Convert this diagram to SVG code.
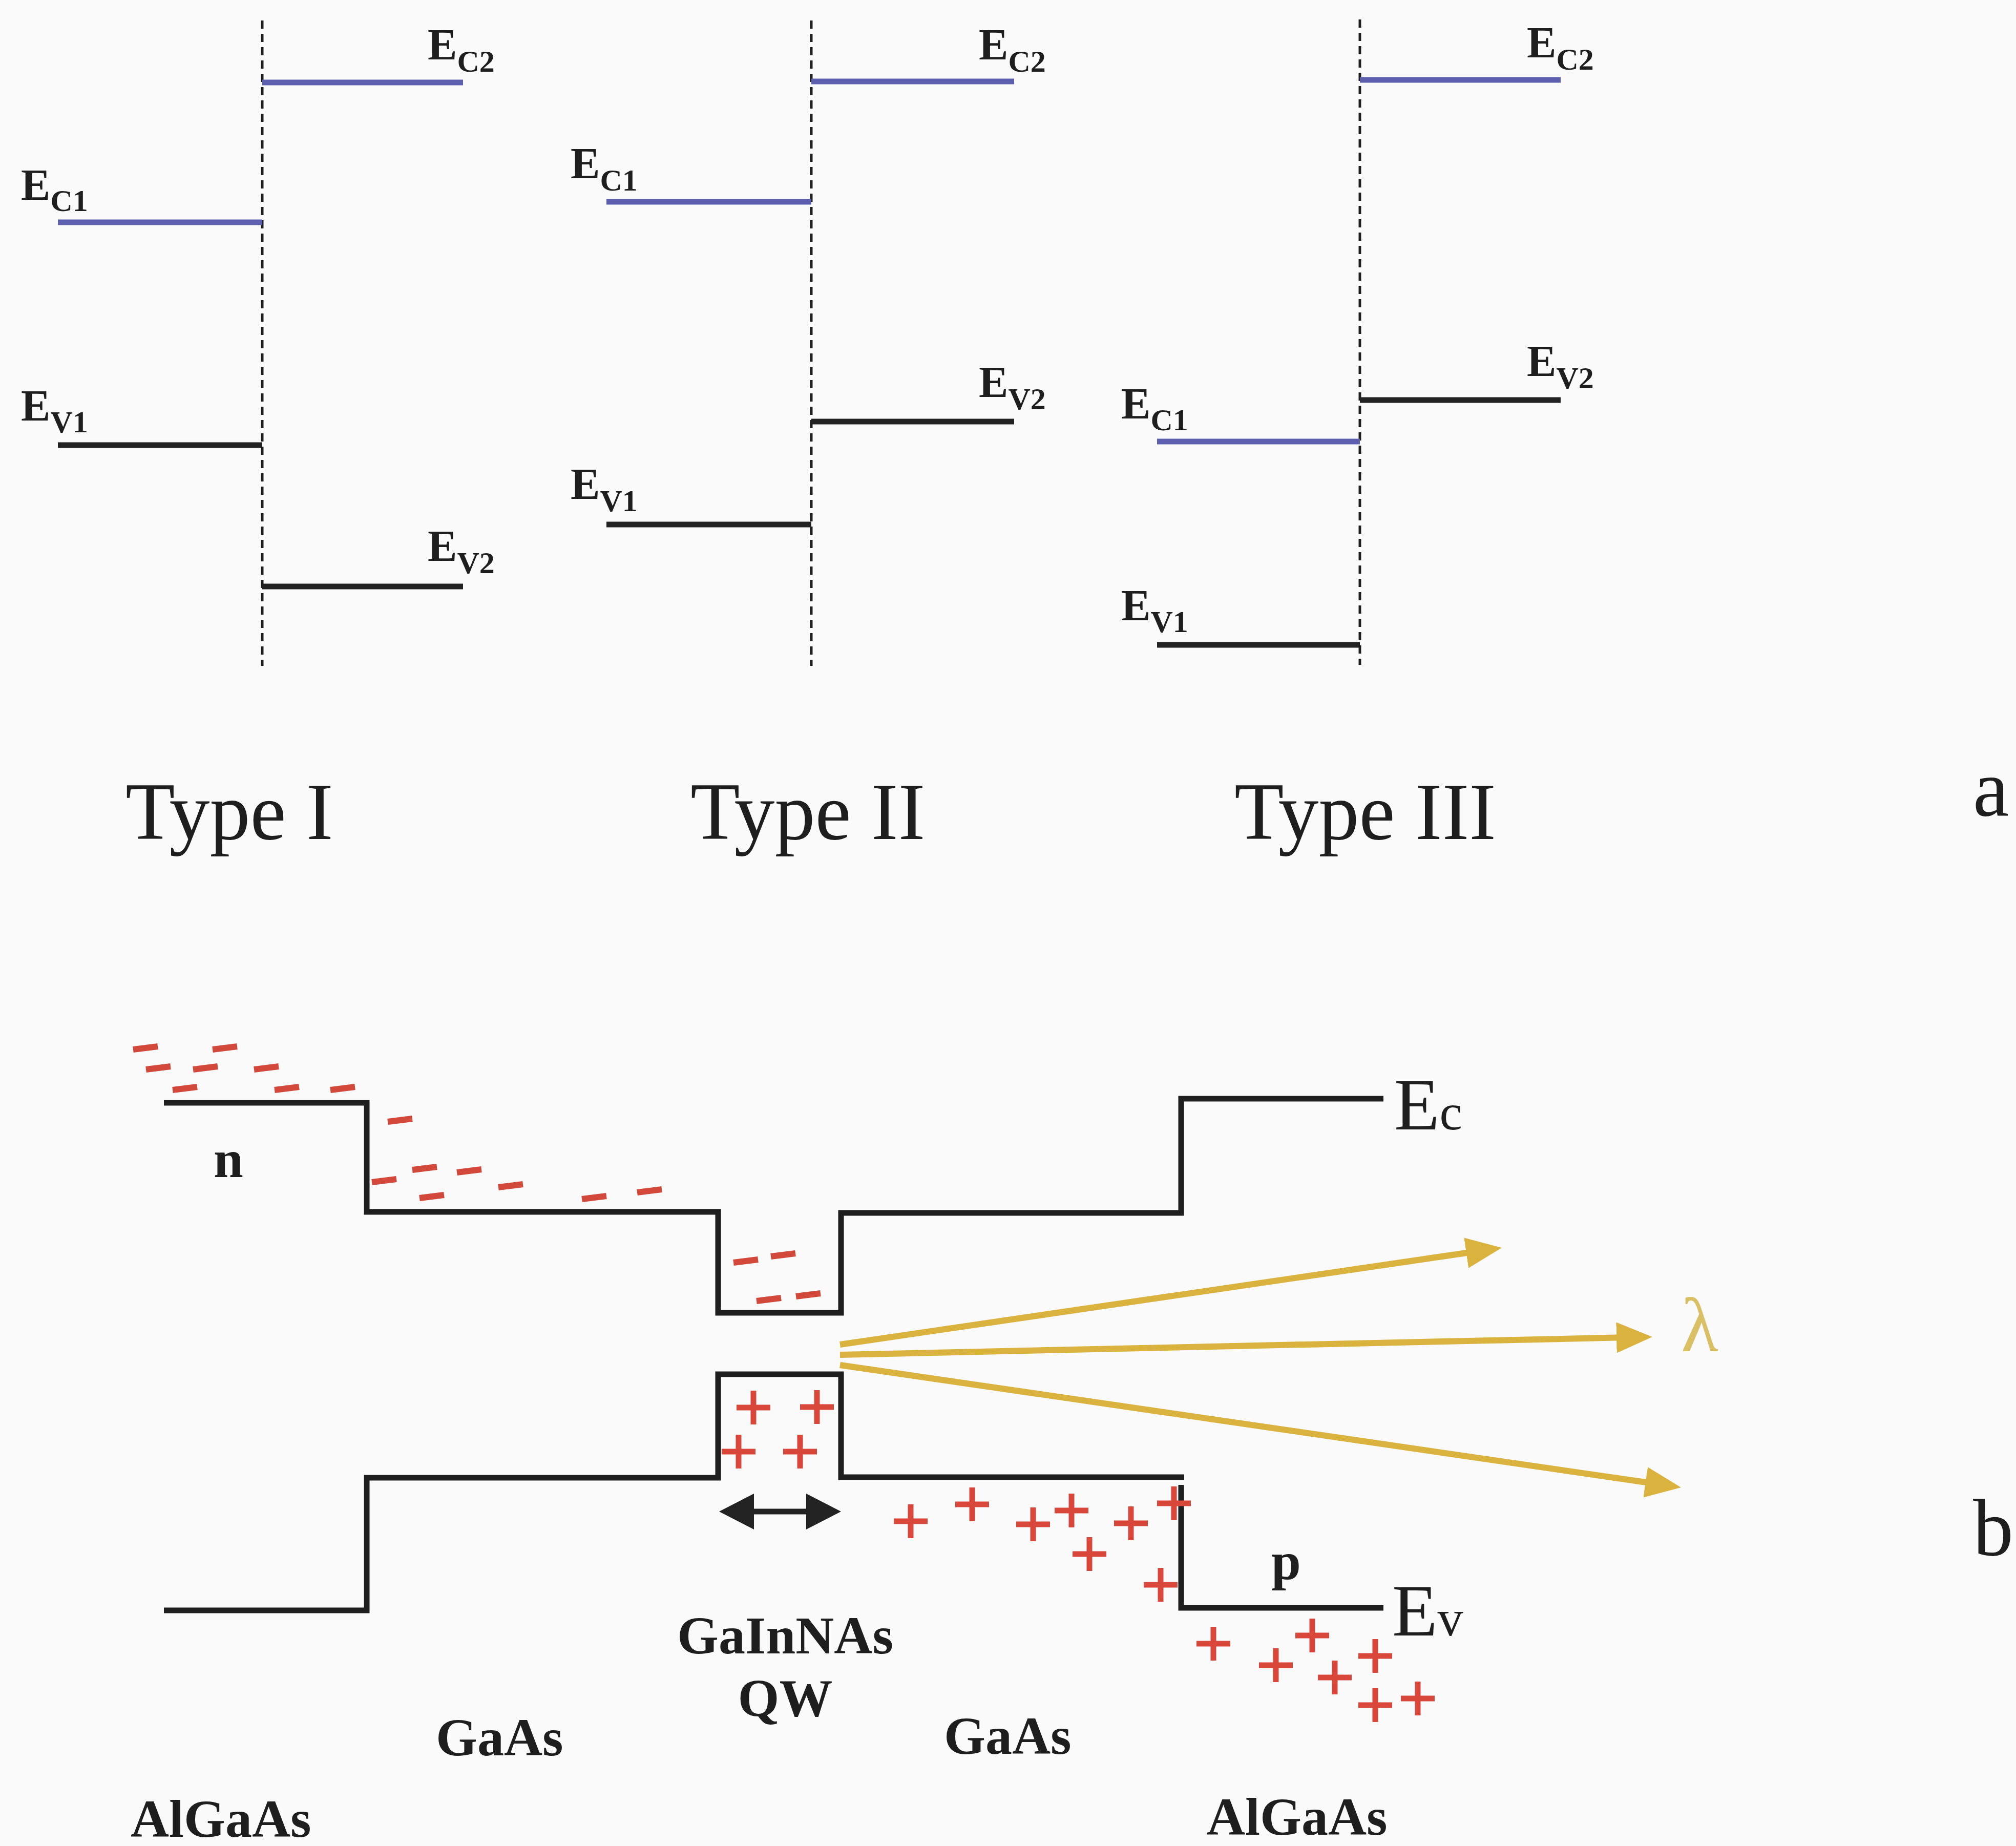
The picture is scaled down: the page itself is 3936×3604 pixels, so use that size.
<svg xmlns="http://www.w3.org/2000/svg" xmlns:xlink="http://www.w3.org/1999/xlink" width="3936" height="3604" viewBox="0 0 3936 3604">
<style>
.bg{fill:#fafafa}
.dash{stroke:#1e1e1e;stroke-width:5;stroke-dasharray:16 10;fill:none}
.cb{stroke:#5b5fae;stroke-width:11;fill:none}
.vb{stroke:#222;stroke-width:11;fill:none}
.band{stroke:#1e1e1e;stroke-width:11;fill:none;stroke-linejoin:miter}
.lbl{font-family:"Liberation Serif",serif;font-weight:bold;font-size:86px;fill:#1e1e1e}
.sub{font-size:60px}
.type{font-family:"Liberation Serif",serif;font-size:158px;fill:#1e1e1e}
.mat{font-family:"Liberation Serif",serif;font-weight:bold;font-size:104px;fill:#1e1e1e}
.ev{font-family:"Liberation Serif",serif;font-size:145px;fill:#1e1e1e}
.ray{stroke:#dab23e;stroke-width:12;fill:none;marker-end:url(#yhead)}
.el{stroke:#d2483a;stroke-width:12;stroke-linecap:butt}
.hole{stroke:#d9473a;stroke-width:11;fill:none}
</style>
<defs>
<marker id="yhead" viewBox="0 0 70 60" refX="20" refY="30" markerWidth="70" markerHeight="60" markerUnits="userSpaceOnUse" orient="auto">
<path d="M0,0 L70,30 L0,60 Z" fill="#dab23e"/>
</marker>
<path id="e" class="el" d="M-24,3 L24,-3"/>
<path id="h" class="hole" d="M-33,0 H33 M0,-33 V33"/>
</defs>
<rect class="bg" x="0" y="0" width="3936" height="3604"/>

<g id="type1">
<line class="dash" x1="512" y1="40" x2="512" y2="1300"/>
<line class="cb" x1="512" y1="161" x2="904" y2="161"/>
<line class="cb" x1="113" y1="434" x2="512" y2="434"/>
<line class="vb" x1="113" y1="869" x2="512" y2="869"/>
<line class="vb" x1="512" y1="1145" x2="904" y2="1145"/>
<text class="lbl" x="835" y="116">E<tspan class="sub" dy="24">C2</tspan></text>
<text class="lbl" x="41" y="390">E<tspan class="sub" dy="22">C1</tspan></text>
<text class="lbl" x="41" y="821">E<tspan class="sub" dy="23">V1</tspan></text>
<text class="lbl" x="835" y="1095">E<tspan class="sub" dy="24">V2</tspan></text>
<text class="type" x="245" y="1638">Type I</text>
</g>

<g id="type2">
<line class="dash" x1="1584" y1="40" x2="1584" y2="1300"/>
<line class="cb" x1="1584" y1="159" x2="1980" y2="159"/>
<line class="cb" x1="1184" y1="394" x2="1584" y2="394"/>
<line class="vb" x1="1584" y1="823" x2="1980" y2="823"/>
<line class="vb" x1="1184" y1="1024" x2="1584" y2="1024"/>
<text class="lbl" x="1911" y="116">E<tspan class="sub" dy="24">C2</tspan></text>
<text class="lbl" x="1114" y="348">E<tspan class="sub" dy="24">C1</tspan></text>
<text class="lbl" x="1911" y="775">E<tspan class="sub" dy="24">V2</tspan></text>
<text class="lbl" x="1114" y="974">E<tspan class="sub" dy="24">V1</tspan></text>
<text class="type" x="1348" y="1638">Type II</text>
</g>

<g id="type3">
<line class="dash" x1="2655" y1="38" x2="2655" y2="1298"/>
<line class="cb" x1="2655" y1="156" x2="3047" y2="156"/>
<line class="vb" x1="2655" y1="781" x2="3047" y2="781"/>
<line class="cb" x1="2259" y1="862" x2="2655" y2="862"/>
<line class="vb" x1="2259" y1="1259" x2="2655" y2="1259"/>
<text class="lbl" x="2981" y="112">E<tspan class="sub" dy="24">C2</tspan></text>
<text class="lbl" x="2981" y="734">E<tspan class="sub" dy="24">V2</tspan></text>
<text class="lbl" x="2189" y="817">E<tspan class="sub" dy="23">C1</tspan></text>
<text class="lbl" x="2189" y="1211">E<tspan class="sub" dy="23">V1</tspan></text>
<text class="type" x="2410" y="1638">Type III</text>
</g>

<g id="label-a"><text class="type" x="3852" y="1592" font-size="165">a</text></g>
<g id="label-b"><text class="type" x="3852" y="3036" font-size="165">b</text></g>

<g id="bands">
<path class="band" d="M320,2153 H716 V2366 H1402 V2563 H1642 V2368 H2306 V2145 H2701"/>
<path class="band" d="M320,3144 H716 V2885 H1402 V2683 H1642 V2884 H2312"/>
<path class="band" d="M2306,2899 V3139 H2701"/>
<text class="ev" x="2722" y="2205">E<tspan font-size="100">c</tspan></text>
<text class="ev" x="2718" y="3193">E<tspan font-size="100">v</tspan></text>
<text class="mat" x="417" y="2298" font-size="125">n</text>
<text class="mat" x="2482" y="3083" font-size="118">p</text>
</g>

<g id="materials">
<text class="mat" x="255" y="3586">AlGaAs</text>
<text class="mat" x="851" y="3427">GaAs</text>
<text class="mat" x="1533" y="3228" text-anchor="middle">GaInNAs</text>
<text class="mat" x="1533" y="3350" text-anchor="middle">QW</text>
<text class="mat" x="1843" y="3424">GaAs</text>
<text class="mat" x="2356" y="3582">AlGaAs</text>
</g>

<g id="electrons">
<use xlink:href="#e" x="284" y="2046"/>
<use xlink:href="#e" x="439" y="2046"/>
<use xlink:href="#e" x="309" y="2085"/>
<use xlink:href="#e" x="401" y="2085"/>
<use xlink:href="#e" x="520" y="2085"/>
<use xlink:href="#e" x="361" y="2125"/>
<use xlink:href="#e" x="560" y="2125"/>
<use xlink:href="#e" x="669" y="2125"/>
<use xlink:href="#e" x="781" y="2187"/>
<use xlink:href="#e" x="750" y="2305"/>
<use xlink:href="#e" x="829" y="2281"/>
<use xlink:href="#e" x="916" y="2286"/>
<use xlink:href="#e" x="843" y="2336"/>
<use xlink:href="#e" x="997" y="2315"/>
<use xlink:href="#e" x="1160" y="2338"/>
<use xlink:href="#e" x="1268" y="2325"/>
<use xlink:href="#e" x="1456" y="2462"/>
<use xlink:href="#e" x="1529" y="2450"/>
<use xlink:href="#e" x="1501" y="2537"/>
<use xlink:href="#e" x="1578" y="2528"/>
</g>

<g id="holes">
<use xlink:href="#h" x="1471" y="2748"/>
<use xlink:href="#h" x="1595" y="2747"/>
<use xlink:href="#h" x="1442" y="2834"/>
<use xlink:href="#h" x="1562" y="2834"/>
<use xlink:href="#h" x="1778" y="2970"/>
<use xlink:href="#h" x="1898" y="2937"/>
<use xlink:href="#h" x="2017" y="2976"/>
<use xlink:href="#h" x="2092" y="2949"/>
<use xlink:href="#h" x="2208" y="2974"/>
<use xlink:href="#h" x="2292" y="2935"/>
<use xlink:href="#h" x="2127" y="3034"/>
<use xlink:href="#h" x="2266" y="3094"/>
<use xlink:href="#h" x="2369" y="3209"/>
<use xlink:href="#h" x="2562" y="3193"/>
<use xlink:href="#h" x="2491" y="3251"/>
<use xlink:href="#h" x="2685" y="3233"/>
<use xlink:href="#h" x="2606" y="3275"/>
<use xlink:href="#h" x="2685" y="3329"/>
<use xlink:href="#h" x="2768" y="3316"/>
</g>

<g id="connectors">
<line class="ray" x1="1640" y1="2625" x2="2882.5" y2="2443.2"/>
<line class="ray" x1="1640" y1="2645" x2="3176" y2="2611.1"/>
<line class="ray" x1="1640" y1="2665" x2="3232.5" y2="2896.8"/>
<g id="qw-width">
<line x1="1460" y1="2951" x2="1586" y2="2951" stroke="#222" stroke-width="11"/>
<path d="M1404,2951 L1472,2916 L1472,2986 Z" fill="#222"/>
<path d="M1642,2951 L1574,2916 L1574,2986 Z" fill="#222"/>
</g>
</g>
<g id="lambda"><text x="3282" y="2638" font-family="Liberation Serif, serif" font-size="150" fill="#d9c064">λ</text></g>
</svg>
